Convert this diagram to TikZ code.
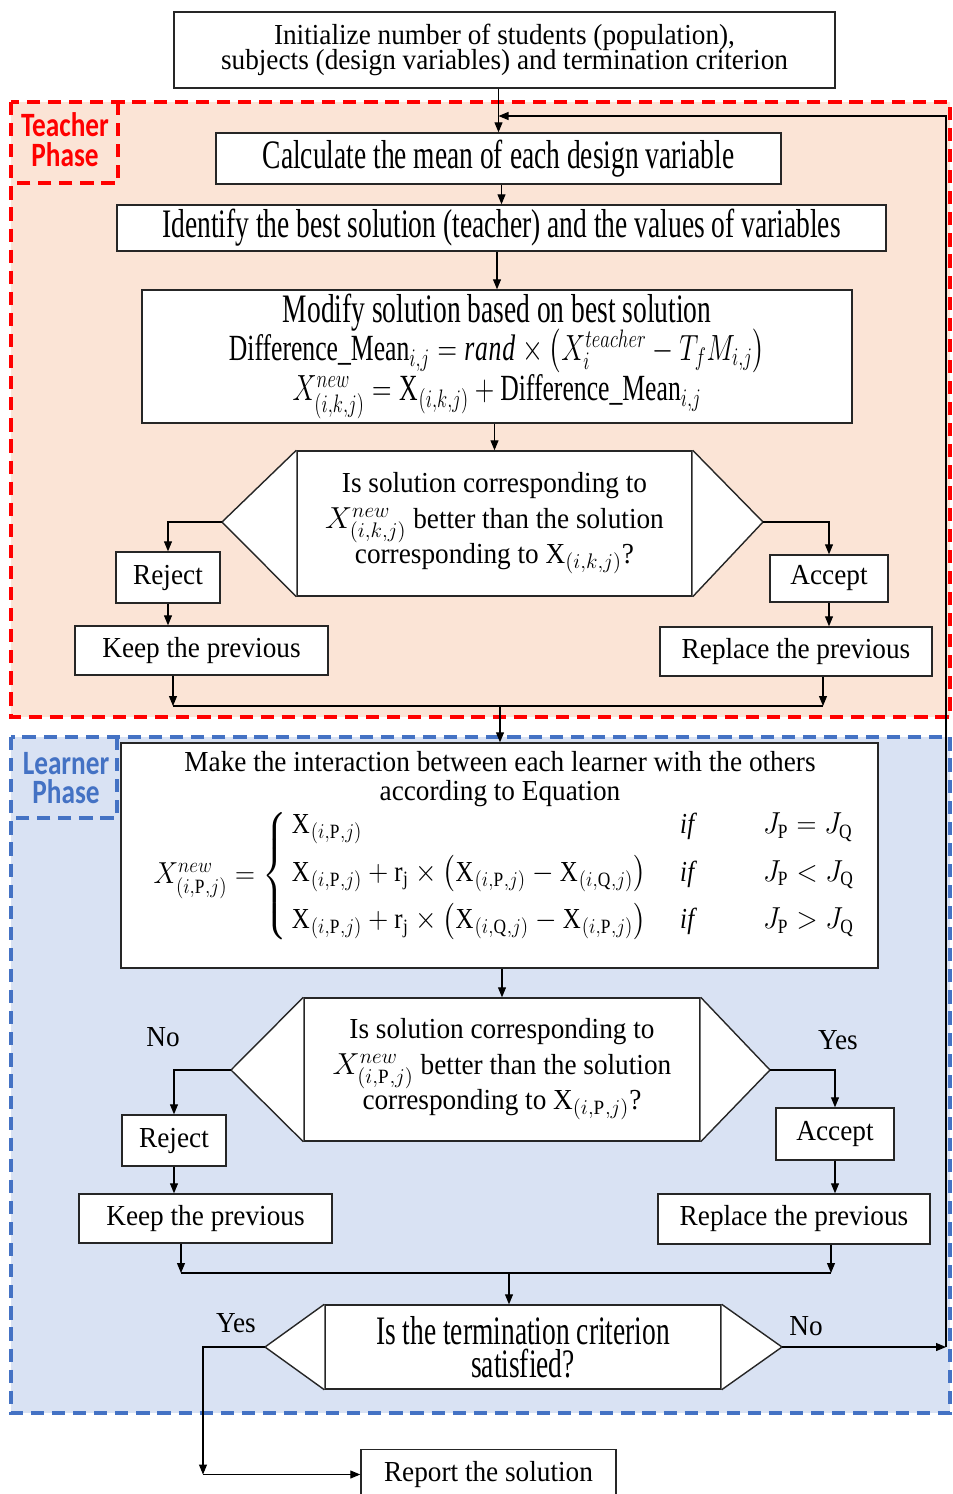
\documentclass[tikz,border=0pt]{standalone}
\usepackage{amsmath}
\usepackage{graphicx}
\usepackage{fontspec}
\setmainfont{Liberation Serif}[FakeStretch=0.94]
\newfontfamily\narrowfont{Liberation Serif}[FakeStretch=0.68]
\newfontfamily\labelfont{Carlito}[FakeStretch=0.8]
\usetikzlibrary{arrows.meta}
\definecolor{tpeach}{RGB}{251,228,214}
\definecolor{lblue}{RGB}{217,226,243}
\definecolor{tred}{RGB}{255,0,0}
\definecolor{lbluedash}{RGB}{68,114,196}
\newcommand{\boxfont}{\fontsize{16.5pt}{14.6pt}\selectfont}
\newcommand{\nboxfont}{\fontsize{23pt}{16.5pt}\narrowfont}
\newcommand{\tightskip}{\lineskiplimit=-50pt}
\newcommand{\sqz}[1]{\scalebox{0.74}[1]{\fontsize{21pt}{16.5pt}\selectfont#1}}

\begin{document}
\begin{tikzpicture}[x=0.2mm,y=-0.2mm,
  box/.style={draw=black!85,fill=white,line width=0.8pt,inner sep=1pt,align=center,font=\boxfont},
  nbox/.style={box,font=\nboxfont},
  arr/.style={line width=0.6pt,-{Triangle[length=2mm,width=1.6mm]}},
  reddash/.style={draw=tred,line width=2pt,dash pattern=on 7.5pt off 4.5pt},
  bluedash/.style={draw=lbluedash,line width=2pt,dash pattern=on 7.5pt off 4.5pt}]
\useasboundingbox (0,0) rectangle (953,1494);

\draw[reddash,fill=tpeach] (11,102) rectangle (950,717);
\draw[reddash] (118,102) -- (118,183) -- (11,183);
\node[font=\fontsize{19.4pt}{17pt}\labelfont\bfseries,text=tred,align=center] (tlab) at (65,140) {Teacher\\Phase};
\draw[bluedash,fill=lblue] (11,737) rectangle (950,1413);
\draw[bluedash] (117,737) -- (117,818) -- (11,818);
\node[font=\fontsize{19.4pt}{17pt}\labelfont\bfseries,text=lbluedash,align=center] (llab) at (66,778) {Learner\\Phase};

\node[box,font=\boxfont\tightskip,minimum width=13.22cm,minimum height=1.52cm] (init) at (504.5,50) {Initialize number of students (population),\\ subjects (design variables) and termination criterion};
\node[nbox,minimum width=11.3cm,minimum height=1.02cm] (calc) at (498.5,158.5) {Calculate the mean of each design variable};
\node[nbox,minimum width=15.38cm,minimum height=0.92cm] (ident) at (501.5,228) {Identify the best solution (teacher) and the values of variables};
\node[nbox,font=\nboxfont\tightskip,minimum width=14.2cm,minimum height=2.66cm] (modify) at (497,356.5) {Modify solution based on best solution\\[5pt]
  \sqz{$\textrm{Difference\_Mean}_{i,j}=\mathit{rand}\times\left(X_i^{teacher}-T_fM_{i,j}\right)$}\\[6.5pt]
  \sqz{$X^{new}_{(i,k,j)}=\mathrm{X}_{(i,k,j)}+\textrm{Difference\_Mean}_{i,j}$}};

\node[box,font=\boxfont\tightskip,minimum width=7.9cm,minimum height=2.9cm] (dec1) at (494.5,523.5) {Is solution corresponding to\\[5.5pt] $X^{new}_{(i,k,j)}$ better than the solution\\[5.5pt] corresponding to X$_{(i,k,j)}$?};
\coordinate (d1l) at (222,522);
\coordinate (d1r) at (763,522);
\draw[line width=0.8pt,draw=black!85,fill=white] (dec1.north west) -- (d1l) -- (dec1.south west);
\draw[line width=0.8pt,draw=black!85,fill=white] (dec1.north east) -- (d1r) -- (dec1.south east);
\node[box,minimum width=2.08cm,minimum height=1.02cm] (rej1) at (168,577.5) {Reject};
\node[box,minimum width=5.06cm,minimum height=0.98cm] (keep1) at (201.5,650.5) {Keep the previous};
\node[box,minimum width=2.36cm,minimum height=0.94cm] (acc1) at (829,578.5) {Accept};
\node[box,minimum width=5.44cm,minimum height=0.98cm] (rep1) at (796,651.5) {Replace the previous};

\node[box,minimum width=15.14cm,minimum height=4.5cm] (make) at (499.5,855.5) {};
\node[font=\boxfont,align=center] (maketxt) at (500,779) {Make the interaction between each learner with the others\\[1.9pt] according to Equation};
\node[font=\boxfont] (makeeq) at (505,876) {\scalebox{0.91}[1]{$X^{new}_{(i,\mathrm{P},j)}=\left\{\begin{array}{@{\,}l@{\hspace{0.75cm}}l@{\hspace{1.5cm}}l@{}}
  \mathrm{X}_{(i,\mathrm{P},j)} & \mathit{if} & J_{\mathrm{P}}=J_{\mathrm{Q}}\\[8pt]
  \mathrm{X}_{(i,\mathrm{P},j)}+\mathrm{r_j}\times\left(\mathrm{X}_{(i,\mathrm{P},j)}-\mathrm{X}_{(i,\mathrm{Q},j)}\right) & \mathit{if} & J_{\mathrm{P}}<J_{\mathrm{Q}}\\[8pt]
  \mathrm{X}_{(i,\mathrm{P},j)}+\mathrm{r_j}\times\left(\mathrm{X}_{(i,\mathrm{Q},j)}-\mathrm{X}_{(i,\mathrm{P},j)}\right) & \mathit{if} & J_{\mathrm{P}}>J_{\mathrm{Q}}
  \end{array}\right.$}};

\node[box,font=\boxfont\tightskip,minimum width=7.92cm,minimum height=2.86cm] (dec2) at (502,1069.5) {Is solution corresponding to\\[5.5pt] $X^{new}_{(i,\mathrm{P},j)}$ better than the solution\\[5.5pt] corresponding to X$_{(i,\mathrm{P},j)}$?};
\coordinate (d2l) at (231,1070);
\coordinate (d2r) at (770,1070);
\draw[line width=0.8pt,draw=black!85,fill=white] (dec2.north west) -- (d2l) -- (dec2.south west);
\draw[line width=0.8pt,draw=black!85,fill=white] (dec2.north east) -- (d2r) -- (dec2.south east);
\node[box,minimum width=2.08cm,minimum height=1.02cm] (rej2) at (174,1140.5) {Reject};
\node[box,minimum width=5.06cm,minimum height=0.98cm] (keep2) at (205.5,1218.5) {Keep the previous};
\node[box,minimum width=2.36cm,minimum height=1.04cm] (acc2) at (835,1134) {Accept};
\node[box,minimum width=5.44cm,minimum height=1cm] (rep2) at (794,1219) {Replace the previous};
\node[font=\boxfont] (no2) at (163,1037) {No};
\node[font=\boxfont] (yes2) at (838,1040) {Yes};

\node[nbox,minimum width=7.92cm,minimum height=1.68cm] (term) at (523,1347) {Is the termination criterion\\[2pt] satisfied?};
\coordinate (d3l) at (265,1347);
\coordinate (d3r) at (782,1347);
\draw[line width=0.8pt,draw=black!85,fill=white] (term.north west) -- (d3l) -- (term.south west);
\draw[line width=0.8pt,draw=black!85,fill=white] (term.north east) -- (d3r) -- (term.south east);
\node[font=\boxfont] (yes3) at (236,1323) {Yes};
\node[font=\boxfont] (no3) at (806,1326) {No};
\node[box,minimum width=5.1cm,minimum height=1cm] (report) at (488.5,1474.5) {Report the solution};

\coordinate (lpend) at (498.5,116);
\coordinate (lp) at (946,1347);
\coordinate (mg1l) at (173,706);
\coordinate (mg1r) at (823,706);
\coordinate (mg1) at (500,706);
\coordinate (mg2l) at (181,1273);
\coordinate (mg2r) at (831,1273);
\coordinate (mg2) at (509,1273);
\coordinate (yesc) at (203,1474.5);

\draw[arr] (init.south -| calc.north) -- (calc.north);
\draw[arr] (calc.south -| ident.north) -- (ident.north);
\draw[arr] (ident.south -| modify.north) -- (modify.north);
\draw[arr] (modify.south -| dec1.north) -- (dec1.north);
\draw[arr] (d1l) -| (rej1.north);
\draw[arr] (rej1.south) -- (rej1.south |- keep1.north);
\draw[arr] (d1r) -| (acc1.north);
\draw[arr] (acc1.south) -- (acc1.south |- rep1.north);
\draw[arr] (keep1.south -| mg1l) -- (mg1l);
\draw[arr] (rep1.south -| mg1r) -- (mg1r);
\draw[line width=0.6pt] (mg1l) -- (mg1r);
\draw[arr] (mg1) -- (make.north -| mg1);

\draw[arr] (make.south -| dec2.north) -- (dec2.north);
\draw[arr] (d2l) -| (rej2.north);
\draw[arr] (rej2.south) -- (rej2.south |- keep2.north);
\draw[arr] (d2r) -| (acc2.north);
\draw[arr] (acc2.south) -- (acc2.south |- rep2.north);
\draw[arr] (keep2.south -| mg2l) -- (mg2l);
\draw[arr] (rep2.south -| mg2r) -- (mg2r);
\draw[line width=0.6pt] (mg2l) -- (mg2r);
\draw[arr] (mg2) -- (term.north -| mg2);

\draw[arr] (d3l) -| (yesc);
\draw[arr] (yesc) -- (report.west);
\draw[arr] (d3r) -- (lp);
\draw[arr] (lp) |- (lpend);
\end{tikzpicture}
\end{document}
